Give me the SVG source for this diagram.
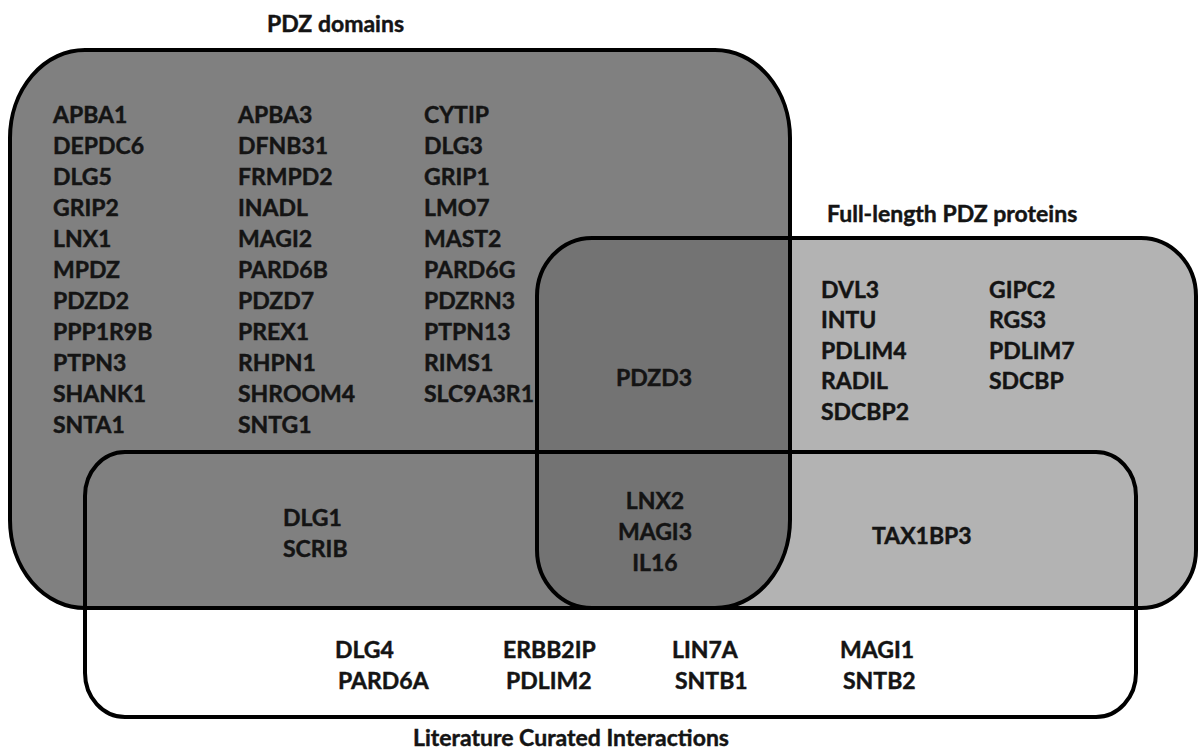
<svg xmlns="http://www.w3.org/2000/svg" width="1200" height="753" viewBox="0 0 1200 753">
  <style>
    .set { stroke: #000; stroke-width: 4; }
    .t { font-family: Lato, "Liberation Sans", sans-serif; font-weight: bold; font-size: 23px; fill: #141414; stroke: #141414; stroke-width: 0.45px; }
    .c { text-anchor: middle; }
  </style>
  <defs>
    <rect id="pdzShape" x="10" y="50" width="780" height="558" rx="75" ry="88"/>
    <rect id="flShape" x="537" y="238" width="659" height="370" rx="55" ry="58"/>
    <clipPath id="pdzClip"><use href="#pdzShape"/></clipPath>
  </defs>

  <!-- filled set areas -->
  <use href="#flShape" fill="#b3b3b3"/>
  <use href="#pdzShape" fill="#808080"/>
  <use href="#flShape" fill="#737373" clip-path="url(#pdzClip)"/>

  <!-- outlines and member lists -->
  <g id="pdz-domains">
    <use href="#pdzShape" class="set" fill="none"/>
    <text class="t" x="267" y="32">PDZ domains</text>
    <g class="t">
      <text x="53" y="123">APBA1</text>
      <text x="53" y="154">DEPDC6</text>
      <text x="53" y="185">DLG5</text>
      <text x="53" y="216">GRIP2</text>
      <text x="53" y="247">LNX1</text>
      <text x="53" y="278">MPDZ</text>
      <text x="53" y="309">PDZD2</text>
      <text x="53" y="340">PPP1R9B</text>
      <text x="53" y="371">PTPN3</text>
      <text x="53" y="402">SHANK1</text>
      <text x="53" y="433">SNTA1</text>
      <text x="238" y="123">APBA3</text>
      <text x="238" y="154">DFNB31</text>
      <text x="238" y="185">FRMPD2</text>
      <text x="238" y="216">INADL</text>
      <text x="238" y="247">MAGI2</text>
      <text x="238" y="278">PARD6B</text>
      <text x="238" y="309">PDZD7</text>
      <text x="238" y="340">PREX1</text>
      <text x="238" y="371">RHPN1</text>
      <text x="238" y="402">SHROOM4</text>
      <text x="238" y="433">SNTG1</text>
      <text x="424" y="123">CYTIP</text>
      <text x="424" y="154">DLG3</text>
      <text x="424" y="185">GRIP1</text>
      <text x="424" y="216">LMO7</text>
      <text x="424" y="247">MAST2</text>
      <text x="424" y="278">PARD6G</text>
      <text x="424" y="309">PDZRN3</text>
      <text x="424" y="340">PTPN13</text>
      <text x="424" y="371">RIMS1</text>
      <text x="424" y="402">SLC9A3R1</text>
      <text x="283" y="526">DLG1</text>
      <text x="283" y="557">SCRIB</text>
    </g>
  </g>

  <g id="full-length-pdz">
    <use href="#flShape" class="set" fill="none"/>
    <text class="t" x="827" y="222">Full-length PDZ proteins</text>
    <g class="t">
      <text x="821" y="298">DVL3</text>
      <text x="821" y="328">INTU</text>
      <text x="821" y="359">PDLIM4</text>
      <text x="821" y="389">RADIL</text>
      <text x="821" y="420">SDCBP2</text>
      <text x="989" y="298">GIPC2</text>
      <text x="989" y="328">RGS3</text>
      <text x="989" y="359">PDLIM7</text>
      <text x="989" y="389">SDCBP</text>
      <text x="872" y="544">TAX1BP3</text>
    </g>
    <g class="t c">
      <text x="654" y="386">PDZD3</text>
      <text x="655" y="509">LNX2</text>
      <text x="655" y="540">MAGI3</text>
      <text x="655" y="571">IL16</text>
    </g>
  </g>

  <g id="literature-curated">
    <rect class="set" fill="none" x="85" y="452" width="1051" height="265" rx="40" ry="44"/>
    <text class="t" x="413" y="746">Literature Curated Interactions</text>
    <g class="t">
      <text x="335" y="658">DLG4</text>
      <text x="338" y="689">PARD6A</text>
      <text x="503" y="658">ERBB2IP</text>
      <text x="506" y="689">PDLIM2</text>
      <text x="672" y="658">LIN7A</text>
      <text x="675" y="689">SNTB1</text>
      <text x="840" y="658">MAGI1</text>
      <text x="843" y="689">SNTB2</text>
    </g>
  </g>

  <!-- no connectors in this diagram -->
  <g id="connectors"/>
</svg>
